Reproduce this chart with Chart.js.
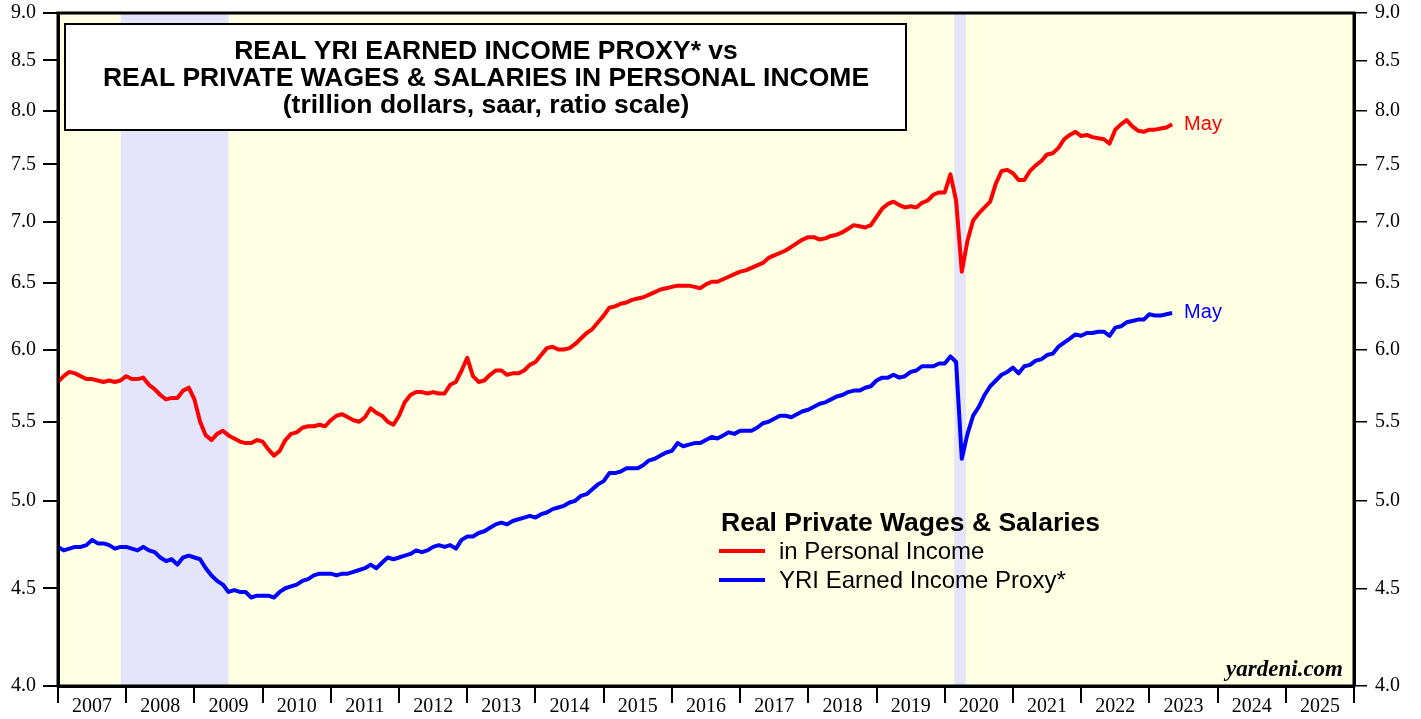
<!DOCTYPE html>
<html>
<head>
<meta charset="utf-8">
<script src="https://cdn.jsdelivr.net/npm/chart.js@4.4.0/dist/chart.umd.min.js"></script>
<style>
  html, body { margin: 0; padding: 0; background: #fff; }
</style>
</head>
<body>
<canvas id="chart" width="1421" height="719"></canvas>
<script>
// monthly series, Jan 2007 .. May 2023 (trillion dollars, saar)
var startYear = 2007;
var years = [2007, 2008, 2009, 2010, 2011, 2012, 2013, 2014, 2015, 2016,
             2017, 2018, 2019, 2020, 2021, 2022, 2023, 2024, 2025];
var yTicks = [4.0, 4.5, 5.0, 5.5, 6.0, 6.5, 7.0, 7.5, 8.0, 8.5, 9.0];

var wagesPI = [
  5.77, 5.81, 5.84, 5.83, 5.81, 5.79, 5.79, 5.78, 5.77, 5.78, 5.77, 5.78,
  5.81, 5.79, 5.79, 5.80, 5.75, 5.72, 5.68, 5.65, 5.66, 5.66, 5.71, 5.73,
  5.65, 5.50, 5.41, 5.38, 5.42, 5.44, 5.41, 5.39, 5.37, 5.36, 5.36, 5.38,
  5.37, 5.32, 5.28, 5.31, 5.38, 5.42, 5.43, 5.46, 5.47, 5.47, 5.48, 5.47,
  5.51, 5.54, 5.55, 5.53, 5.51, 5.50, 5.53, 5.59, 5.56, 5.54, 5.50, 5.48,
  5.54, 5.63, 5.68, 5.70, 5.70, 5.69, 5.70, 5.69, 5.69, 5.75, 5.77, 5.85,
  5.94, 5.81, 5.77, 5.78, 5.82, 5.85, 5.85, 5.82, 5.83, 5.83, 5.85, 5.89,
  5.91, 5.96, 6.01, 6.02, 6.00, 6.00, 6.01, 6.04, 6.08, 6.12, 6.15, 6.20,
  6.25, 6.31, 6.32, 6.34, 6.35, 6.37, 6.38, 6.39, 6.41, 6.43, 6.45, 6.46,
  6.47, 6.48, 6.48, 6.48, 6.47, 6.46, 6.49, 6.51, 6.51, 6.53, 6.55, 6.57,
  6.59, 6.60, 6.62, 6.64, 6.66, 6.70, 6.72, 6.74, 6.76, 6.79, 6.82, 6.85,
  6.87, 6.87, 6.85, 6.86, 6.88, 6.89, 6.91, 6.94, 6.97, 6.96, 6.95, 6.97,
  7.04, 7.11, 7.15, 7.17, 7.14, 7.12, 7.13, 7.12, 7.16, 7.18, 7.23, 7.25,
  7.25, 7.41, 7.18, 6.59, 6.84, 7.01, 7.07, 7.12, 7.17, 7.33, 7.44, 7.45,
  7.42, 7.36, 7.36, 7.44, 7.49, 7.53, 7.59, 7.60, 7.65, 7.73, 7.77, 7.80,
  7.76, 7.77, 7.75, 7.74, 7.73, 7.69, 7.82, 7.87, 7.91, 7.85, 7.81, 7.80,
  7.82, 7.82, 7.83, 7.84, 7.87
];

var earnedProxy = [
  4.73, 4.71, 4.72, 4.73, 4.73, 4.74, 4.77, 4.75, 4.75, 4.74, 4.72, 4.73,
  4.73, 4.72, 4.71, 4.73, 4.71, 4.70, 4.67, 4.65, 4.66, 4.63, 4.67, 4.68,
  4.67, 4.66, 4.61, 4.57, 4.54, 4.52, 4.48, 4.49, 4.48, 4.48, 4.45, 4.46,
  4.46, 4.46, 4.45, 4.48, 4.50, 4.51, 4.52, 4.54, 4.55, 4.57, 4.58, 4.58,
  4.58, 4.57, 4.58, 4.58, 4.59, 4.60, 4.61, 4.63, 4.61, 4.64, 4.67, 4.66,
  4.67, 4.68, 4.69, 4.71, 4.70, 4.71, 4.73, 4.74, 4.73, 4.74, 4.72, 4.77,
  4.79, 4.79, 4.81, 4.82, 4.84, 4.86, 4.87, 4.86, 4.88, 4.89, 4.90, 4.91,
  4.90, 4.92, 4.93, 4.95, 4.96, 4.97, 4.99, 5.00, 5.03, 5.04, 5.07, 5.10,
  5.12, 5.17, 5.17, 5.18, 5.20, 5.20, 5.20, 5.22, 5.25, 5.26, 5.28, 5.30,
  5.31, 5.36, 5.34, 5.35, 5.36, 5.36, 5.38, 5.40, 5.39, 5.41, 5.43, 5.42,
  5.44, 5.44, 5.44, 5.46, 5.49, 5.50, 5.52, 5.54, 5.54, 5.53, 5.55, 5.57,
  5.58, 5.60, 5.62, 5.63, 5.65, 5.67, 5.68, 5.70, 5.71, 5.71, 5.73, 5.74,
  5.78, 5.80, 5.80, 5.82, 5.80, 5.81, 5.84, 5.85, 5.88, 5.88, 5.88, 5.90,
  5.90, 5.95, 5.91, 5.26, 5.42, 5.54, 5.60, 5.68, 5.74, 5.78, 5.82, 5.84,
  5.87, 5.83, 5.88, 5.89, 5.92, 5.93, 5.96, 5.97, 6.02, 6.05, 6.08, 6.11,
  6.10, 6.12, 6.12, 6.13, 6.13, 6.10, 6.16, 6.17, 6.20, 6.21, 6.22, 6.22,
  6.26, 6.25, 6.25, 6.26, 6.27
];

// recessions, in fractional years
var recessions = [[2007.92, 2009.5], [2020.14, 2020.31]];

var titleLines = [
  'REAL YRI EARNED INCOME PROXY* vs',
  'REAL PRIVATE WAGES & SALARIES IN PERSONAL INCOME',
  '(trillion dollars, saar, ratio scale)'
];
var legendTitle = 'Real Private Wages & Salaries';
var lastMonth = 'May';
var credit = 'yardeni.com';

function toPoints(arr) {
  return arr.map(function (v, i) { return { x: startYear + i / 12, y: v }; });
}

var serif = '"Liberation Serif", "Times New Roman", serif';
var sans = '"Liberation Sans", Arial, sans-serif';

var backdrop = {
  id: 'backdrop',
  beforeDraw: function (chart) {
    var ctx = chart.ctx, a = chart.chartArea, xs = chart.scales.x;
    ctx.save();
    ctx.fillStyle = '#ffffe4';
    ctx.fillRect(a.left, a.top, a.right - a.left, a.bottom - a.top);
    ctx.fillStyle = '#e4e4fa';
    recessions.forEach(function (r) {
      var x0 = xs.getPixelForValue(r[0]), x1 = xs.getPixelForValue(r[1]);
      ctx.fillRect(x0, a.top, x1 - x0, a.bottom - a.top);
    });
    ctx.restore();
  }
};

var decorations = {
  id: 'decorations',
  afterDraw: function (chart) {
    var ctx = chart.ctx, a = chart.chartArea;
    ctx.save();

    // frame
    ctx.strokeStyle = '#000';
    ctx.lineWidth = 3;
    ctx.strokeRect(a.left, a.top, a.right - a.left, a.bottom - a.top);

    // title box
    ctx.fillStyle = '#fff';
    ctx.fillRect(65, 24, 841, 106);
    ctx.lineWidth = 2;
    ctx.strokeRect(65, 24, 841, 106);
    ctx.fillStyle = '#000';
    ctx.textAlign = 'center';
    ctx.textBaseline = 'alphabetic';
    ctx.font = 'bold 26.5px ' + sans;
    ctx.fillText(titleLines[0], 486, 59);
    ctx.fillText(titleLines[1], 486, 86);
    ctx.fillText(titleLines[2], 486, 113);

    // legend
    ctx.textAlign = 'left';
    ctx.font = 'bold 26.5px ' + sans;
    ctx.fillText(legendTitle, 721, 531);
    ctx.font = '24px ' + sans;
    chart.data.datasets.forEach(function (ds, k) {
      var y = 551 + k * 29;
      ctx.strokeStyle = ds.borderColor;
      ctx.lineWidth = 4;
      ctx.beginPath();
      ctx.moveTo(719, y);
      ctx.lineTo(765, y);
      ctx.stroke();
      ctx.fillStyle = '#000';
      ctx.fillText(ds.label, 779, y + 8);
    });

    // end labels
    ctx.font = '20px ' + sans;
    ctx.textBaseline = 'middle';
    chart.data.datasets.forEach(function (ds, k) {
      var pts = chart.getDatasetMeta(k).data;
      var p = pts[pts.length - 1];
      ctx.fillStyle = ds.borderColor;
      ctx.fillText(lastMonth, p.x + 12, p.y);
    });

    // credit
    ctx.fillStyle = '#000';
    ctx.textAlign = 'right';
    ctx.textBaseline = 'alphabetic';
    ctx.font = 'italic bold 23px ' + serif;
    ctx.fillText(credit, a.right - 11, a.bottom - 10);

    ctx.restore();
  }
};

function noVerticalPad(scale) {
  scale.paddingTop = 0;
  scale.paddingBottom = 0;
}

var ctx = document.getElementById('chart');
var myChart = new Chart(ctx, {
  type: 'line',
  data: {
    datasets: [
      {
        label: 'in Personal Income',
        data: toPoints(wagesPI),
        borderColor: '#ff0000',
        borderWidth: 4,
        pointRadius: 0,
        borderJoinStyle: 'round',
        yAxisID: 'y'
      },
      {
        label: 'YRI Earned Income Proxy*',
        data: toPoints(earnedProxy),
        borderColor: '#0000ff',
        borderWidth: 4,
        pointRadius: 0,
        borderJoinStyle: 'round',
        yAxisID: 'y'
      }
    ]
  },
  options: {
    responsive: false,
    animation: false,
    layout: { padding: { top: 13, left: 0, right: 0, bottom: 0 } },
    plugins: {
      legend: { display: false },
      tooltip: { enabled: false }
    },
    scales: {
      x: {
        type: 'linear',
        min: 2007,
        max: 2026,
        afterBuildTicks: function (scale) {
          scale.ticks = years.map(function (y) { return { value: y + 0.5 }; });
        },
        afterFit: function (scale) { scale.height = 33; },
        ticks: {
          autoSkip: false,
          maxRotation: 0,
          padding: -8,
          color: '#000',
          font: { family: serif, size: 20 },
          callback: function (v) { return String(Math.floor(v)); }
        },
        grid: {
          offset: true,
          drawOnChartArea: false,
          drawTicks: true,
          tickLength: 17,
          color: '#000',
          lineWidth: 2
        },
        border: { display: true, color: '#000', width: 3 }
      },
      y: {
        type: 'logarithmic',
        position: 'left',
        min: 4,
        max: 9,
        afterBuildTicks: function (scale) {
          scale.ticks = yTicks.map(function (v) { return { value: v }; });
        },
        afterFit: function (scale) { scale.width = 58; noVerticalPad(scale); },
        ticks: {
          autoSkip: false,
          padding: 7,
          color: '#000',
          font: { family: serif, size: 20 },
          callback: function (v) { return Number(v).toFixed(1); }
        },
        grid: {
          drawOnChartArea: false,
          tickLength: 15,
          color: '#000',
          lineWidth: 2
        },
        border: { display: true, color: '#000', width: 3 }
      },
      y2: {
        type: 'logarithmic',
        position: 'right',
        min: 4,
        max: 9,
        afterBuildTicks: function (scale) {
          scale.ticks = yTicks.map(function (v) { return { value: v }; });
        },
        afterFit: function (scale) { scale.width = 67; noVerticalPad(scale); },
        ticks: {
          autoSkip: false,
          padding: 8,
          color: '#000',
          font: { family: serif, size: 20 },
          callback: function (v) { return Number(v).toFixed(1); }
        },
        grid: {
          drawOnChartArea: false,
          tickLength: 13,
          color: '#000',
          lineWidth: 1.5
        },
        border: { display: true, color: '#000', width: 3 }
      }
    }
  },
  plugins: [backdrop, decorations]
});
</script>
</body>
</html>
